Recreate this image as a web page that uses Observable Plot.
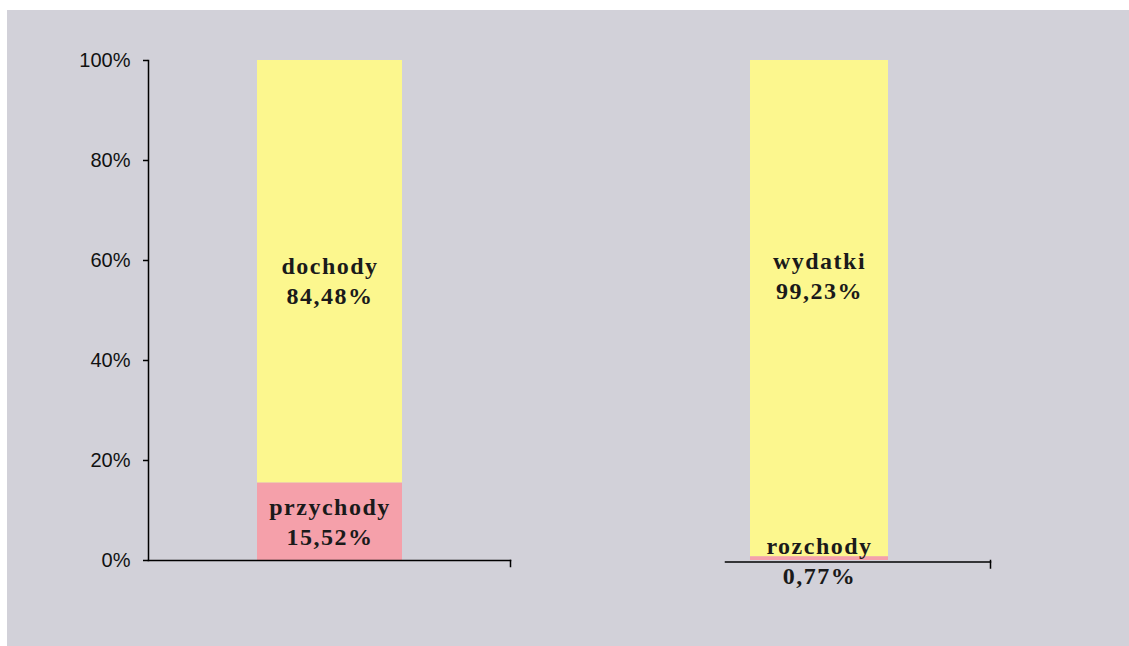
<!DOCTYPE html>
<html><head><meta charset="utf-8">
<script src="https://cdn.jsdelivr.net/npm/d3@7"></script>
<script src="https://cdn.jsdelivr.net/npm/@observablehq/plot@0.6"></script>
<style>
body{margin:0;background:#fff;width:1129px;height:646px;overflow:hidden}
#bg{position:absolute;left:7px;top:10px;width:1122px;height:636px;background:#d2d1d9}
#left{position:absolute;left:0;top:0}
#right{position:absolute;left:693px;top:0}
svg g[aria-label="text"] text{letter-spacing:1.5px}
</style></head><body><div id="bg"><div id="left"></div><div id="right"></div></div>
<script>
// Data
const groups = ["źródła", "rozdysponowanie"];
const leftNames = ["przychody", "dochody"];
const leftValues = [15.52, 84.48];
const rightNames = ["rozchody", "wydatki"];
const rightValues = [0.77, 99.23];
const yTicks = [0, 20, 40, 60, 80, 100];
const colorDomain = ["przychody", "dochody", "rozchody", "wydatki"];
const colorRange = ["#f5a0aa", "#fcf78e", "#f5a0aa", "#fcf78e"];

const leftData = leftNames.map((n, i) => ({group: groups[0], name: n, value: leftValues[i]}));
const rightData = rightNames.map((n, i) => ({group: groups[1], name: n, value: rightValues[i]}));
const fmt = v => v.toFixed(2).replace(".", ",") + "%";
const labelFor = name => d => d.name === name ? `${d.name}\n${fmt(d.value)}` : "";

const labelStyle = {fontFamily: "Liberation Serif, Times New Roman, serif", fontWeight: "bold", fontSize: 24, lineHeight: 1.25, fill: "#1a1a1a"};
const common = {
  height: 580, marginTop: 50, marginBottom: 30,
  color: {domain: colorDomain, range: colorRange},
  style: {background: "transparent", fontFamily: "Liberation Sans, Arial, sans-serif", fontSize: "20px", color: "#000", overflow: "visible"}
};

const left = Plot.plot({
  ...common,
  width: 520, marginLeft: 141, marginRight: 17,
  x: {domain: [groups[0]], padding: 0.428, axis: null},
  y: {domain: [0, 100], label: null},
  marks: [
    Plot.barY(leftData, Plot.stackY({x: "group", y: "value", fill: "name", order: null})),
    Plot.text(leftData, Plot.stackY({x: "group", y: "value", text: labelFor("dochody"), order: null, ...labelStyle, dy: 8})),
    Plot.text(leftData, Plot.stackY({x: "group", y: "value", text: labelFor("przychody"), order: null, ...labelStyle, dy: -1})),
    Plot.axisY({ticks: yTicks, tickFormat: d => d + "%", tickSize: 5, tickPadding: 13, strokeWidth: 1.5, fill: "#111", label: null}),
    Plot.frame({anchor: "left", strokeWidth: 1.5}),
    Plot.frame({anchor: "bottom", strokeWidth: 1.5}),
    Plot.frame({anchor: "right", strokeWidth: 1.5, insetTop: 500, insetBottom: -6})
  ]
});
document.getElementById("left").append(left);

const right = Plot.plot({
  ...common,
  width: 310, marginLeft: 25, marginRight: 20,
  x: {domain: [groups[1]], padding: 0.315, align: 0.197, axis: null},
  y: {domain: [0, 100], axis: null},
  marks: [
    Plot.barY(rightData, Plot.stackY({x: "group", y: "value", fill: "name", order: null})),
    Plot.text(rightData, Plot.stackY({x: "group", y: "value", text: labelFor("wydatki"), order: null, ...labelStyle, dy: -34})),
    Plot.text(rightData, Plot.stackY({x: "group", y: "value", text: labelFor("rozchody"), order: null, ...labelStyle, dy: 1})),
    Plot.frame({anchor: "bottom", strokeWidth: 1.5, dy: 1.5}),
    Plot.frame({anchor: "right", strokeWidth: 1.5, insetTop: 500, insetBottom: -7.5})
  ]
});
document.getElementById("right").append(right);
</script></body></html>
